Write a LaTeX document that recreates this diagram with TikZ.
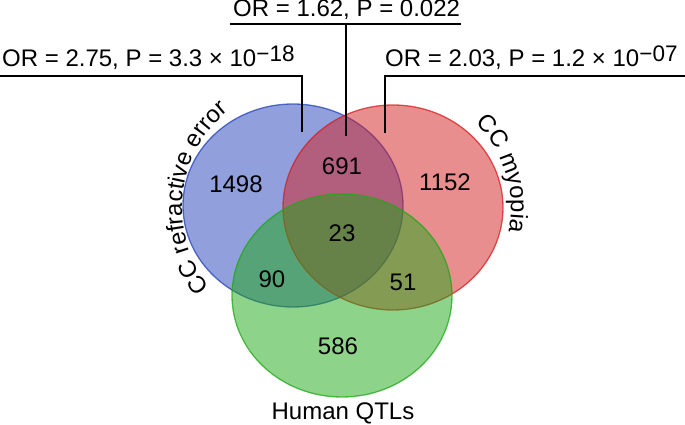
\documentclass[tikz,border=0pt]{standalone}
\usepackage{fontspec}
\setmainfont{Liberation Sans}
\usetikzlibrary{decorations.text}

\definecolor{setblue}{RGB}{35,65,185}
\definecolor{setred}{RGB}{212,30,32}
\definecolor{setgreen}{RGB}{30,168,22}
\newcommand{\supnum}[1]{\raisebox{5pt}{\fontsize{22.5}{22.5}\selectfont #1}}

\begin{document}
\begin{tikzpicture}[x=1pt,y=1pt]
  \tikzset{venn/.style = {fill opacity=0.5, draw opacity=0.75, line width=1.3pt}}
  \tikzset{num/.style = {font=\fontsize{24}{28}\selectfont, inner sep=0pt}}
  \tikzset{stat/.style = {font=\fontsize{24}{28}\selectfont, inner sep=0pt, anchor=base west}}
  \tikzset{lead/.style = {line width=1.2pt}}
  \useasboundingbox (0,0) rectangle (685,425);

  % sets
  \coordinate (blue) at (293,219.5);
  \coordinate (red) at (393,217.5);
  \coordinate (green) at (342,129.5);
  \foreach \s/\c/\ry in {blue/setblue/101.5, red/setred/102.5, green/setgreen/101.5}
  {
    \draw[venn, draw=\c, fill=\c] (\s) ellipse[x radius=110pt, y radius=\ry pt];
  }

  % counts
  \foreach \n/\x/\y in {1498/236/241, 691/342/259, 1152/445/243, 23/342/192, 90/272/146, 51/403/143, 586/338/79}
  {
    \node[num] (n\n) at (\x,\y) {\n};
  }
  \node[num, anchor=base] (qtl) at (343,5) {Human QTLs};

  % set names
  \path[decorate, decoration={text along path, text align=center,
      text={|\fontsize{24}{28}\selectfont|CC refractive error}}]
    (307,217) ++(221:125) arc[start angle=221, end angle=127, radius=125pt];
  \path[decorate, decoration={text along path, text align=center,
      text={|\fontsize{24}{28}\selectfont|CC myopia}}]
    (393,217.5) ++(48:118) arc[start angle=48, end angle=-14, radius=118pt];

  % odds ratios
  \node[stat] (orT) at (233,408) {OR = 1.62, P = 0.022};
  \node[stat] (orL) at (2,358) {OR = 2.75, P = 3.3 × 10\supnum{−18}};
  \node[stat] (orR) at (385,358) {OR = 2.03, P = 1.2 × 10\supnum{−07}};

  \coordinate (tL) at (230,401);
  \coordinate (tR) at (461,401);
  \coordinate (tM) at (346,401);
  \coordinate (tE) at (346,289);
  \coordinate (lL) at (0,349);
  \coordinate (lR) at (302,349);
  \coordinate (lE) at (302,293);
  \coordinate (rL) at (385,349);
  \coordinate (rR) at (685,349);
  \coordinate (rE) at (385,292);
  \draw[lead] (tL) -- (tR);
  \draw[lead] (tM) -- (tE);
  \draw[lead] (lL) -- (lR) -- (lE);
  \draw[lead] (rE) -- (rL) -- (rR);
\end{tikzpicture}
\end{document}
